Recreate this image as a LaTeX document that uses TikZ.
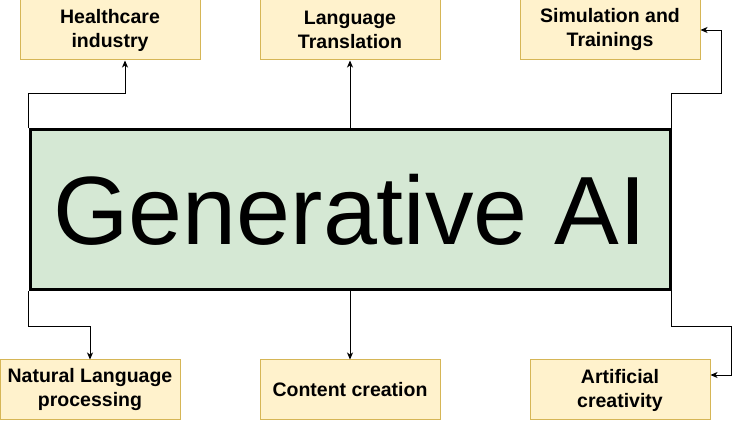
\documentclass[tikz,border=0pt]{standalone}
\usepackage{fontspec}
\setmainfont{Liberation Sans}
\usetikzlibrary{arrows,arrows.meta,positioning}
\usetikzlibrary{calc}
\definecolor{pale_yellow}{HTML}{FFF2CC}
\definecolor{gold_edge}{HTML}{D6B656}
\definecolor{pale_green}{HTML}{D5E8D4}

\begin{document}
\begin{tikzpicture}[
	    x=1pt, y=-1pt,
	    appbox/.style={rectangle, draw=gold_edge, line width=1pt, fill=pale_yellow, minimum width=180pt, minimum height=60pt, align=center, font=\fontsize{19.5}{24}\selectfont\bfseries},
	    genbox/.style={rectangle, draw=black, line width=3pt, fill=pale_green, minimum width=640pt, minimum height=160pt, inner sep=0pt, font=\fontsize{97}{97}\selectfont},
	    normalline/.style={->, >={Stealth[length=7pt, width=6pt, inset=2pt]}, line width=0.9pt},
	]
	\useasboundingbox (0,0) rectangle (740,422);
	\fill[white] (0,0) rectangle (740,422);

	% Centre
	\node[genbox] (genai) at (350, 210) {Generative AI};

	% Top row
	\node[appbox] (health) at (110, 30) {Healthcare\\industry};
	\node[appbox] (lang) at (350, 30) {Language\\Translation};
	\node[appbox] (sim) at (610, 30) {Simulation and\\Trainings};

	% Bottom row
	\node[appbox] (nlp) at (90, 390) {Natural Language\\processing};
	\node[appbox] (content) at (350, 390) {Content creation};
	\node[appbox] (art) at (620, 390) {Artificial\\creativity};

	% connection lines
	\draw [normalline] (genai.north west) -- ++(0,-35) -| ([xshift=15pt]health.south);
	\draw [normalline] (genai.north) -- (lang.south);
	\draw [normalline] (genai.north east) -- ++(0,-35) -- ++(50,0) |- (sim.east);

	\draw [normalline] (genai.south west) -- ++(0,35) -| (nlp.north);
	\draw [normalline] (genai.south) -- (content.north);
	\draw [normalline] (genai.south east) -- ++(0,35) -- ++(60,0) |- ([yshift=15pt]art.east);

\end{tikzpicture}
\end{document}
